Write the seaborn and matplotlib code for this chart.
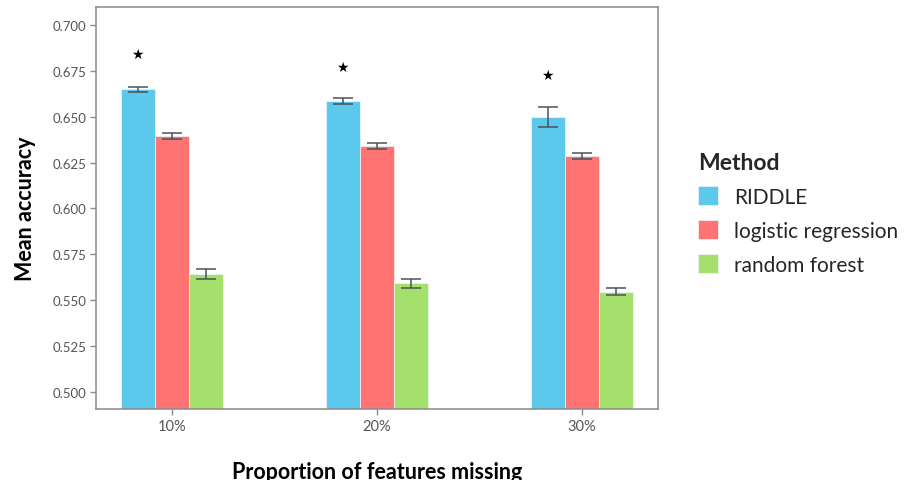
import numpy as np
import pandas as pd
import matplotlib
matplotlib.use("Agg")
import matplotlib.pyplot as plt
import seaborn as sns

# Mean accuracy per method at each level of missing features
proportions = ["10%", "20%", "30%"]
methods = ["RIDDLE", "logistic regression", "random forest"]
riddle_mean = [0.6650, 0.6586, 0.6500]
logreg_mean = [0.6395, 0.6340, 0.6284]
forest_mean = [0.5642, 0.5591, 0.5546]
riddle_err = [0.0014, 0.0014, 0.0055]
logreg_err = [0.0016, 0.0015, 0.0016]
forest_err = [0.0028, 0.0024, 0.0020]
# significance markers above the RIDDLE bars
star_pos = [0.6842, 0.6771, 0.6730]

palette = {"RIDDLE": "#5bc8ec", "logistic regression": "#ff7373", "random forest": "#a6e06c"}

rows = []
for m, means, errs in zip(methods, [riddle_mean, logreg_mean, forest_mean],
                          [riddle_err, logreg_err, forest_err]):
    for p, v, e in zip(proportions, means, errs):
        rows.append({"Proportion": p, "Method": m, "Accuracy": v, "Err": e})
df = pd.DataFrame(rows)

sns.set_theme(style="white")
plt.rcParams["font.family"] = ["Lato", "DejaVu Sans"]

fig = plt.figure(figsize=(9.06, 4.81), dpi=100)
ax = fig.add_axes([0.106, 0.1476, 0.620, 0.8355])

sns.barplot(data=df, x="Proportion", y="Accuracy", hue="Method",
            order=proportions, hue_order=methods, palette=palette,
            width=0.5, gap=0, errorbar=None, ax=ax, legend=False,
            edgecolor="#f2f8fb", linewidth=0.5, saturation=1)

# error bars at the centre of each bar
for m, patch_group in zip(methods, ax.containers):
    sub = df[df["Method"] == m].set_index("Proportion").loc[proportions]
    xs = [b.get_x() + b.get_width() / 2 for b in patch_group]
    ax.errorbar(xs, sub["Accuracy"], yerr=sub["Err"], fmt="none",
                ecolor="#4a525c", elinewidth=1.1, capsize=7, capthick=1.1, zorder=5)

riddle_bars = ax.containers[0]
for b, s in zip(riddle_bars, star_pos):
    ax.text(b.get_x() + b.get_width() / 2, s, "\u2605", ha="center", va="center",
            fontsize=10, color="black", family="DejaVu Sans")

ax.set_ylim(0.4906, 0.7098)
ax.set_xlim(-0.37, 2.37)
ax.set_yticks(np.arange(0.5, 0.7001, 0.025))
ax.set_yticklabels([f"{v:.3f}" for v in np.arange(0.5, 0.7001, 0.025)])

for sp in ax.spines.values():
    sp.set_visible(True)
    sp.set_color("#8a8a8a")
    sp.set_linewidth(1.1)

ax.tick_params(axis="both", which="major", direction="out", length=4, width=1,
               color="#8a8a8a", labelcolor="#555555", labelsize=9.5, pad=3,
               left=True, bottom=True)
ax.tick_params(axis="x", labelsize=10.5)

ax.set_ylabel("Mean accuracy", fontsize=15.5, fontweight="bold", labelpad=12, color="black")
ax.set_xlabel("Proportion of features missing", fontsize=15.5, fontweight="bold",
              labelpad=20, color="black")

handles = [plt.Rectangle((0, 0), 1, 1, facecolor=palette[m], edgecolor="#f2f8fb", linewidth=0.5)
           for m in methods]
leg = fig.legend(handles, methods, title="Method", loc="center left",
                 bbox_to_anchor=(0.7615, 0.555), frameon=False, fontsize=15,
                 title_fontsize=16.5, handlelength=0.95, handleheight=1.0,
                 handletextpad=0.75, labelspacing=0.65, borderaxespad=0)
leg.get_title().set_fontweight("bold")
leg._legend_box.align = "left"

fig.savefig("out.png", dpi=100)
